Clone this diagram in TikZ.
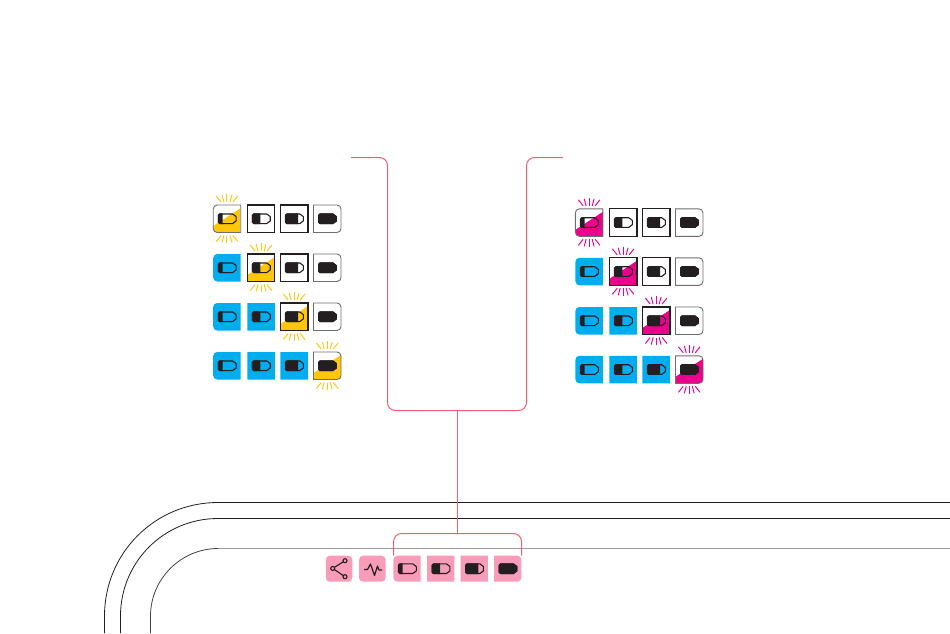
\documentclass[tikz,border=0pt]{standalone}
\usetikzlibrary{calc}
\definecolor{inkc}{HTML}{231F20}
\definecolor{cyanc}{HTML}{00AEEF}
\definecolor{yellowc}{HTML}{FFC60B}
\definecolor{magc}{HTML}{EC008C}
\definecolor{pinkc}{HTML}{F99CBA}
\definecolor{linkc}{HTML}{F05F6E}
\tikzset{
  boxblack/.style={draw=inkc,line width=1.2},
  boxgrey/.style={draw=inkc!65,line width=0.9},
  bracket/.style={draw=linkc,line width=1,rounded corners=8},
  rim/.style={line width=0.8},
  anchorbox/.style={inner sep=0,outer sep=0,minimum width=27.5,minimum height=27.5},
}
% shape of a tile: #1,#2 top-left; #3,#4 size; #5 left radius; #6 right radius
\newcommand{\tileshape}[6]{(#1+#3/2,#2) [rounded corners=#6] -- (#1+#3,#2) -- (#1+#3,#2+#4) -- (#1+#3/2,#2+#4) [rounded corners=#5] -- (#1,#2+#4) -- (#1,#2) -- cycle}
% battery: #1,#2 top-left of the tile, #3 tile height, #4 fraction
\newcommand{\batt}[4]{%
  \begin{scope}[shift={(#1+4.6,#2+#3/2)}]
    \begin{scope}
      \clip (0,-6) rectangle (18.8*#4,6);
      \fill[inkc] (1.8,-5.3) -- (15,-5.3) -- (18.8,-2.4) -- (18.8,2.4) -- (15,5.3) -- (1.8,5.3) .. controls (0.6,5.3) and (0,4.6) .. (0,3.5) -- (0,-3.5) .. controls (0,-4.6) and (0.6,-5.3) .. (1.8,-5.3) -- cycle;
    \end{scope}
    \draw[inkc,line width=1.1,line join=round] (1.8,-4.8) -- (14.8,-4.8) -- (18.3,-2.2) -- (18.3,2.2) -- (14.8,4.8) -- (1.8,4.8) .. controls (1,4.8) and (0.5,4.3) .. (0.5,3.5) -- (0.5,-3.5) .. controls (0.5,-4.3) and (1,-4.8) .. (1.8,-4.8) -- cycle;
  \end{scope}}
% glow rays round a tile
\newcommand{\rays}[4]{%
  \begin{scope}[shift={(#1,#2)},#4,line width=0.95]
    \foreach \a/\b/\c/\d in {-10.8/-9/-6/-3,-4.9/-10/-3/-2.8,0/-10.6/0/-3,4.9/-10/3/-2.8,10.8/-9/6/-3}{
      \draw (13.75+\a,\b) -- (13.75+\c,\d);
      \draw (13.75+\a,#3-\b) -- (13.75+\c,#3-\d);
    }
  \end{scope}}
% a white tile with diagonal colour
\newcommand{\diag}[8]{% x,y,name,lr,rr,colour,border,frac
  \node[anchorbox] (#3) at (#1+13.75,#2+13.75) {};
  \begin{scope}
    \clip \tileshape{#1}{#2}{27.5}{27.5}{#4}{#5};
    \fill[#6] (#1,#2+21) -- (#1+27.5,#2+3) -- (#1+27.5,#2+27.5) -- (#1,#2+27.5) -- cycle;
  \end{scope}
  \draw[#7] \tileshape{#1}{#2}{27.5}{27.5}{#4}{#5};
  \rays{#1}{#2}{27.5}{draw=#6}
  \batt{#1}{#2}{27.5}{#8}}
\newcommand{\plain}[8]{% x,y,name,lr,rr,look,frac,h
  \node[anchorbox] (#3) at (#1+13.75,#2+13.75) {};
  \path[#6] \tileshape{#1}{#2}{27.5}{#8}{#4}{#5};
  \batt{#1}{#2}{#8}{#7}}
\newcommand{\gridrows}[7]{% x1 x2 x3 x4 tag colour, rows in #7
  \foreach \rr/\yy in {#7}{
    \foreach \cc/\xx/\ff/\lr/\rd in {1/#1/.25/4/0,2/#2/.45/0/0,3/#3/.7/0/0,4/#4/1/0/4}{
      \ifnum\cc=\rr
        \ifnum\cc=1 \def\lk{boxgrey}\else\ifnum\cc=4 \def\lk{boxgrey}\else\def\lk{boxblack}\fi\fi
        \diag{\xx}{\yy}{#5r\rr c\cc}{\lr}{\rd}{#6}{\lk}{\ff}
      \else\ifnum\cc<\rr
        \plain{\xx}{\yy}{#5r\rr c\cc}{\lr}{\rd}{fill=cyanc}{\ff}{27.5}
      \else
        \ifnum\cc=4
          \plain{\xx}{\yy}{#5r\rr c\cc}{\lr}{\rd}{boxgrey,fill=white}{\ff}{27.5}
        \else
          \plain{\xx}{\yy}{#5r\rr c\cc}{\lr}{\rd}{boxblack,fill=white}{\ff}{27.5}
        \fi
      \fi\fi
    }
  }}
\begin{document}
\begin{tikzpicture}[x=1pt,y=-1pt]
\useasboundingbox (0,0) rectangle (950,633);
% device outline
\coordinate (oa) at (950,502.5); \coordinate (ob) at (950,518.5); \coordinate (oc) at (950,548.5);
\coordinate (oa2) at (104.5,633); \coordinate (ob2) at (120.5,633); \coordinate (oc2) at (150.5,633);
\draw[inkc,rim] (oa) -- (218,502.5) .. controls (155,502.5) and (104.5,553) .. (104.5,616) -- (oa2);
\draw[inkc,rim] (ob) -- (218,518.5) .. controls (164,518.5) and (120.5,562) .. (120.5,616) -- (ob2);
\draw[inkc!45,line width=1] (oc) -- (218,548.5);
\draw[inkc!85,rim] (218,548.5) .. controls (181,548.5) and (150.5,579) .. (150.5,616) -- (oc2);
% grids
\gridrows{213.2}{247.3}{280.4}{313.5}{L}{yellowc}{1/205,2/254,3/303,4/352}
\gridrows{575.4}{609.4}{642.4}{675.5}{R}{magc}{1/208.8,2/257.8,3/307,4/355.8}
% bottom row
\node[anchorbox,minimum width=26.5,minimum height=26] (share) at (339,568.7) {};
\node[anchorbox,minimum width=26.5,minimum height=26] (pulse) at (372.3,568.7) {};
\fill[pinkc,rounded corners=4] (share.north west) rectangle (share.south east);
\fill[pinkc,rounded corners=4] (pulse.north west) rectangle (pulse.south east);
\draw[inkc,line width=1.1] (345,560.7) circle (2) (332.7,568.4) circle (2) (345,576.7) circle (2);
\draw[inkc,line width=1.1] (343.2,561.8) -- (334.5,567.3) (334.5,569.6) -- (343.2,575.5);
\draw[inkc,line width=1.2,line join=round] (364,569.5) -- (367.5,569.5) -- (370.5,564) -- (374.5,575.5) -- (377.5,566) -- (379,570) -- (382,570);
\foreach \nm/\xx/\ff/\lr/\rd in {b1/393.4/.25/4/0,b2/427/.45/0/0,b3/460.5/.7/0/0,b4/494/1/0/4}{
  \node[anchorbox] (\nm) at (\xx+13.75,568.7) {};
  \path[fill=pinkc] \tileshape{\xx}{555.7}{27.3}{26}{\lr}{\rd};
  \batt{\xx}{555.7}{26}{\ff}
}
% connectors
\coordinate (upL) at (351,157.5);
\coordinate (upR) at (563,157.5);
\coordinate (hub) at (457.2,410.5);
\coordinate (brTop) at (457.2,533.5);
\draw[bracket] (upL) -- (387.5,157.5) -- (387.5,410.5) -- (526.5,410.5) -- (526.5,157.5) -- (upR);
\draw[draw=linkc,line width=1.3] (hub) -- (brTop);
\draw[bracket] (393.6,555.7) -- (393.6,533.5) -- (521.5,533.5) -- (521.5,555.7);
\end{tikzpicture}
\end{document}
